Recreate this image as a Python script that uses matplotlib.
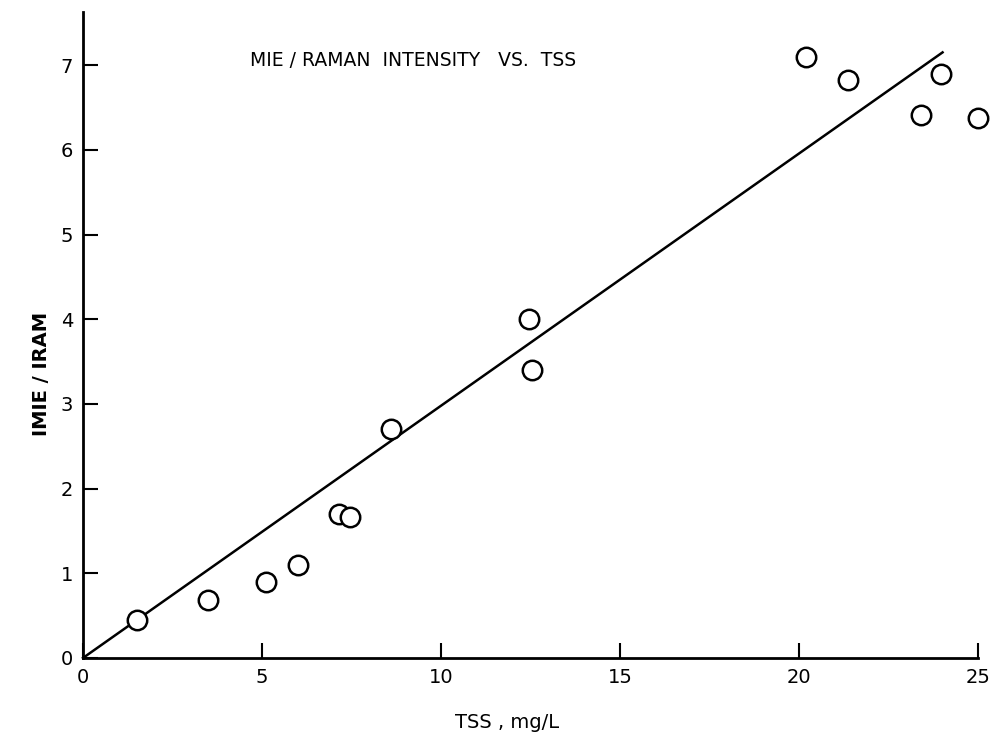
import matplotlib
matplotlib.use('Agg')
import matplotlib.pyplot as plt
import numpy as np

# measured Mie/Raman intensity ratio against total suspended solids
tss = [1.5, 3.5, 5.1, 6.0, 7.15, 7.45, 8.6, 12.45, 12.55, 20.2, 21.35, 23.4, 23.95, 25.0]
ratio = [0.45, 0.69, 0.90, 1.10, 1.70, 1.66, 2.70, 4.00, 3.40, 7.10, 6.83, 6.41, 6.90, 6.38]

# fitted line through the origin
fit_x = [0, 24.0]
fit_slope = 0.298

xticks = [0, 5, 10, 15, 20, 25]
yticks = [0, 1, 2, 3, 4, 5, 6, 7]

plt.rcParams['font.family'] = ['DejaVu Sans']

fig = plt.figure(figsize=(9.96, 7.35), dpi=100)
ax = fig.add_axes([0.0833, 0.1048, 0.899, 0.879])

fit_y = [fit_slope * v for v in fit_x]
ax.plot(fit_x, fit_y, color='black', lw=1.8, clip_on=False)
ax.plot(tss, ratio, 'o', ms=14, mfc='white', mec='black', mew=1.8, clip_on=False, zorder=3)

ax.set_xlim(0, 25)
ax.set_ylim(0, 7.63)
ax.set_xticks(xticks)
ax.set_yticks(yticks)
ax.tick_params(direction='in', length=11, width=1.5, labelsize=14, pad=7)

for side in ['top', 'right']:
    ax.spines[side].set_visible(False)
for side in ['left', 'bottom']:
    ax.spines[side].set_linewidth(2.0)

ax.text(0.186, 0.925, 'MIE / RAMAN  INTENSITY   VS.  TSS', transform=ax.transAxes,
        fontsize=13.5, va='center', ha='left')
ax.set_xlabel('TSS , mg/L', fontsize=14)
ax.xaxis.set_label_coords(0.474, -0.085)
ax.set_ylabel('IMIE / IRAM', fontsize=14, fontweight='bold')
ax.yaxis.set_label_coords(-0.036, 0.44)

plt.savefig('out.png', dpi=100)
plt.close()
